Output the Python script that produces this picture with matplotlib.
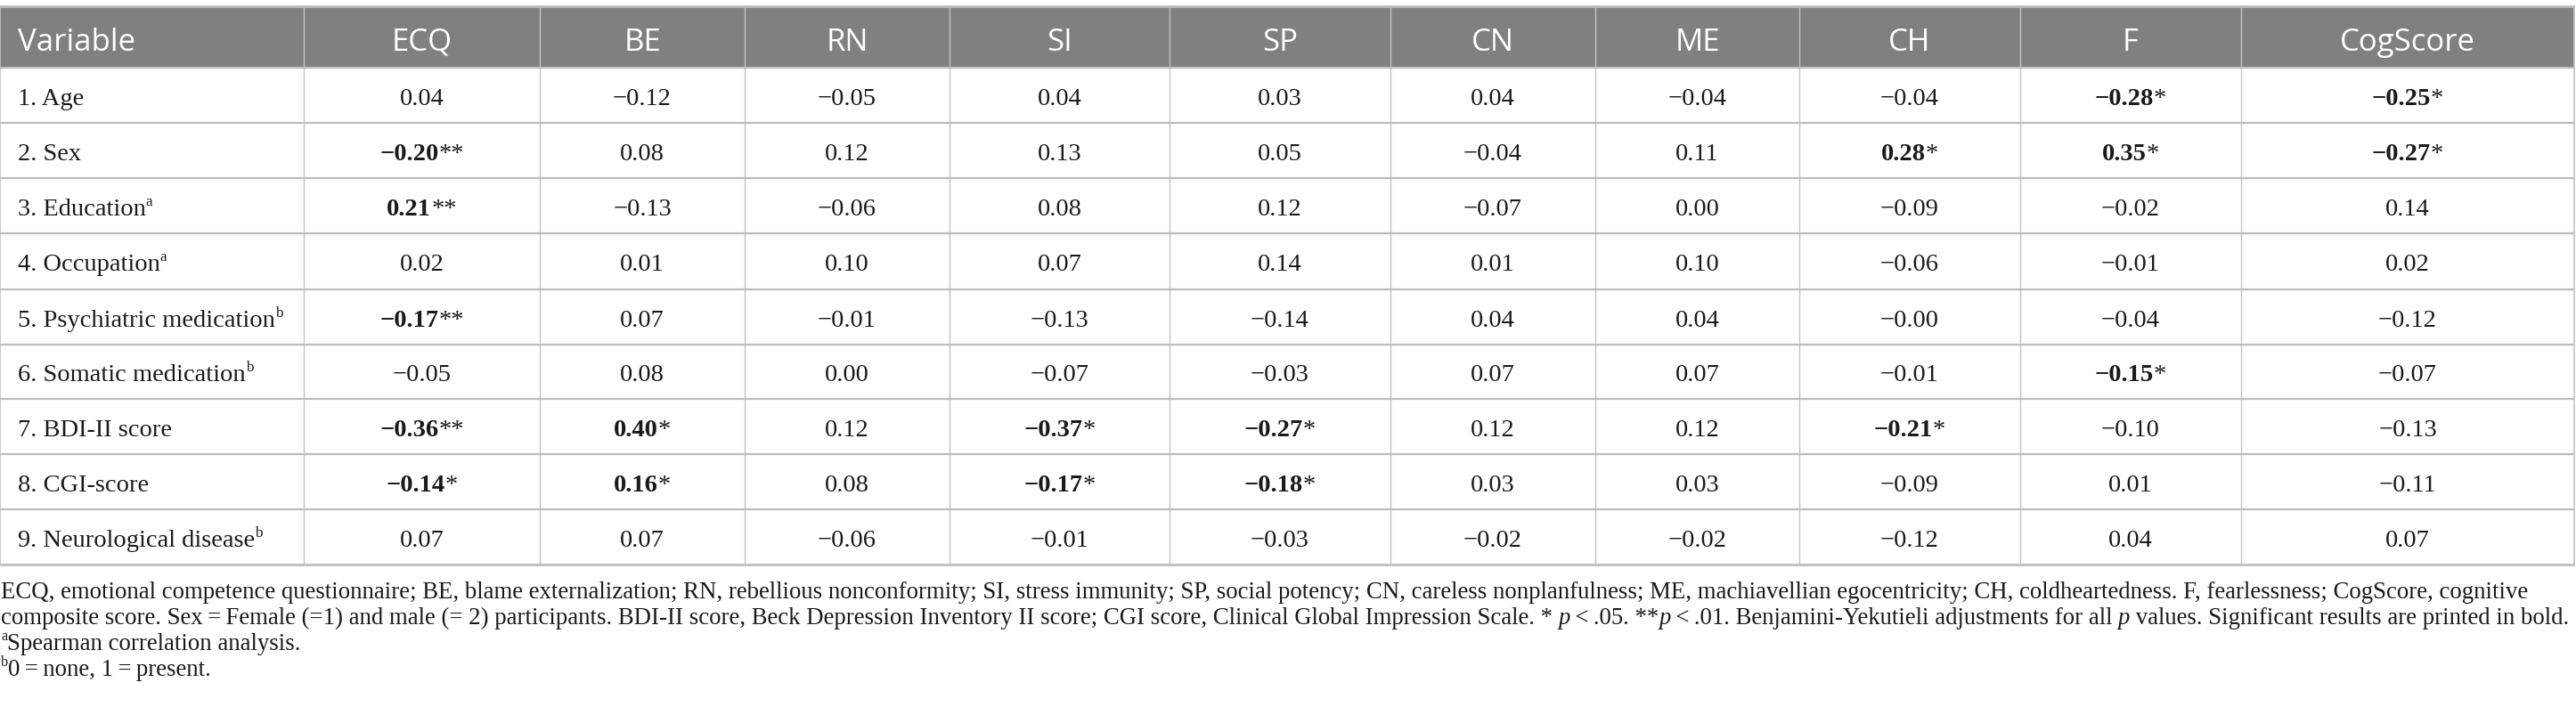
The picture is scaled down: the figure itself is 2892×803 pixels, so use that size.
import matplotlib
matplotlib.use("Agg")
import matplotlib.pyplot as plt

# table content
columns = ["ECQ", "BE", "RN", "SI", "SP", "CN", "ME", "CH", "F", "CogScore"]
variables = ["1. Age", "2. Sex", "3. Education", "4. Occupation",
             "5. Psychiatric medication", "6. Somatic medication",
             "7. BDI-II score", "8. CGI-score", "9. Neurological disease"]
var_sup = ["", "", "a", "a", "b", "b", "", "", "b"]

# trailing * marks significance (printed bold)
age = ["0.04", "−0.12", "−0.05", "0.04", "0.03", "0.04", "−0.04", "−0.04", "−0.28*", "−0.25*"]
sex = ["−0.20**", "0.08", "0.12", "0.13", "0.05", "−0.04", "0.11", "0.28*", "0.35*", "−0.27*"]
education = ["0.21**", "−0.13", "−0.06", "0.08", "0.12", "−0.07", "0.00", "−0.09", "−0.02", "0.14"]
occupation = ["0.02", "0.01", "0.10", "0.07", "0.14", "0.01", "0.10", "−0.06", "−0.01", "0.02"]
psych_med = ["−0.17**", "0.07", "−0.01", "−0.13", "−0.14", "0.04", "0.04", "−0.00", "−0.04", "−0.12"]
somatic_med = ["−0.05", "0.08", "0.00", "−0.07", "−0.03", "0.07", "0.07", "−0.01", "−0.15*", "−0.07"]
bdi = ["−0.36**", "0.40*", "0.12", "−0.37*", "−0.27*", "0.12", "0.12", "−0.21*", "−0.10", "−0.13"]
cgi = ["−0.14*", "0.16*", "0.08", "−0.17*", "−0.18*", "0.03", "0.03", "−0.09", "0.01", "−0.11"]
neuro = ["0.07", "0.07", "−0.06", "−0.01", "−0.03", "−0.02", "−0.02", "−0.12", "0.04", "0.07"]
rows = [age, sex, education, occupation, psych_med, somatic_med, bdi, cgi, neuro]

note1 = [("ECQ, emotional competence questionnaire; BE, blame externalization; RN, rebellious nonconformity; "
          "SI, stress immunity; SP, social potency; CN, careless nonplanfulness; ME, machiavellian egocentricity; "
          "CH, coldheartedness. F, fearlessness; CogScore, cognitive", "n")]
note2 = [("composite score. Sex\u2009=\u2009Female (=1) and male (= 2) participants. BDI-II score, Beck Depression "
          "Inventory II score; CGI score, Clinical Global Impression Scale. * ", "n"), ("p", "i"),
         ("\u2009<\u2009.05. **", "n"), ("p", "i"),
         ("\u2009<\u2009.01. Benjamini-Yekutieli adjustments for all ", "n"), ("p", "i"),
         (" values. Significant results are printed in bold.", "n")]
note3 = [("a", "sup"), ("Spearman correlation analysis.", "n")]
note4 = [("b", "sup"), ("0\u2009=\u2009none, 1\u2009=\u2009present.", "n")]

# layout in pixels
W, H = 2892, 804
col_edges = [0, 341, 606, 836, 1066, 1313, 1561, 1791, 2020, 2268, 2516, 2890]
row_edges = [8, 77, 139, 201, 263, 326, 388, 449, 511, 573, 635]
SERIF = "Liberation Serif"
SANS = "Open Sans"

fig = plt.figure(figsize=(W / 100, H / 100), dpi=100)
ax = fig.add_axes([0, 0, 1, 1])
ax.set_xlim(0, W)
ax.set_ylim(H, 0)
ax.axis("off")
renderer = fig.canvas.get_renderer()


def draw_runs(x, y, runs, size, align="left"):
    # draws text pieces one after another on a shared baseline
    arts = []
    for txt, st in runs:
        kw = dict(family=SERIF, fontsize=size, color="#1a1a1a", va="baseline", ha="left")
        dy = 0
        if st == "b":
            kw["fontweight"] = "bold"
        elif st == "i":
            kw["fontstyle"] = "italic"
        elif st == "sup":
            kw["fontsize"] = size * 0.6
            dy = -size * 0.55
        t = ax.text(0, y + dy, txt, **kw)
        arts.append(t)
    widths = [a.get_window_extent(renderer).width for a in arts]
    total = sum(widths)
    cx = x - total / 2 if align == "center" else x
    for a, w in zip(arts, widths):
        a.set_x(cx)
        cx += w


# header
ax.fill_between([col_edges[0], col_edges[-1]], row_edges[0], row_edges[1], color="#808080", lw=0)
ax.text(20, 57, "Variable", family=SANS, fontsize=25, color="white", va="baseline", ha="left")
for j, c in enumerate(columns):
    xc = (col_edges[j + 1] + col_edges[j + 2]) / 2
    ax.text(xc, 57, c, family=SANS, fontsize=25, color="white", va="baseline", ha="center")

# body
cell_size = 20.5
for i, (name, sup, vals) in enumerate(zip(variables, var_sup, rows)):
    yb = (row_edges[i + 1] + row_edges[i + 2]) / 2 + 10
    runs = [(name, "n")]
    if sup:
        runs.append((sup, "sup"))
    draw_runs(20, yb, runs, cell_size)
    for j, v in enumerate(vals):
        stars = v[len(v.rstrip("*")):]
        num = v.rstrip("*")
        xc = (col_edges[j + 1] + col_edges[j + 2]) / 2
        if stars:
            draw_runs(xc, yb, [(num, "b"), (stars, "n")], cell_size, align="center")
        else:
            draw_runs(xc, yb, [(num, "n")], cell_size, align="center")

# grid lines
for x in col_edges[1:-1]:
    ax.plot([x, x], [row_edges[0], row_edges[-1]], color="#c4c4c4", lw=1.0)
for x in (col_edges[0], col_edges[-1]):
    ax.plot([x, x], [row_edges[0], row_edges[-1]], color="#c4c4c4", lw=1.2)
for k, y in enumerate(row_edges):
    lw = 2.0 if k in (0, len(row_edges) - 1) else 1.6
    ax.plot([col_edges[0], col_edges[-1]], [y, y], color="#bdbdbd", lw=lw, solid_capstyle="butt")

# footnotes
foot_size = 19.3
for yb, runs in zip([672, 701, 730, 759], [note1, note2, note3, note4]):
    draw_runs(1, yb, runs, foot_size)

fig.savefig("out.png", dpi=100, facecolor="white")
